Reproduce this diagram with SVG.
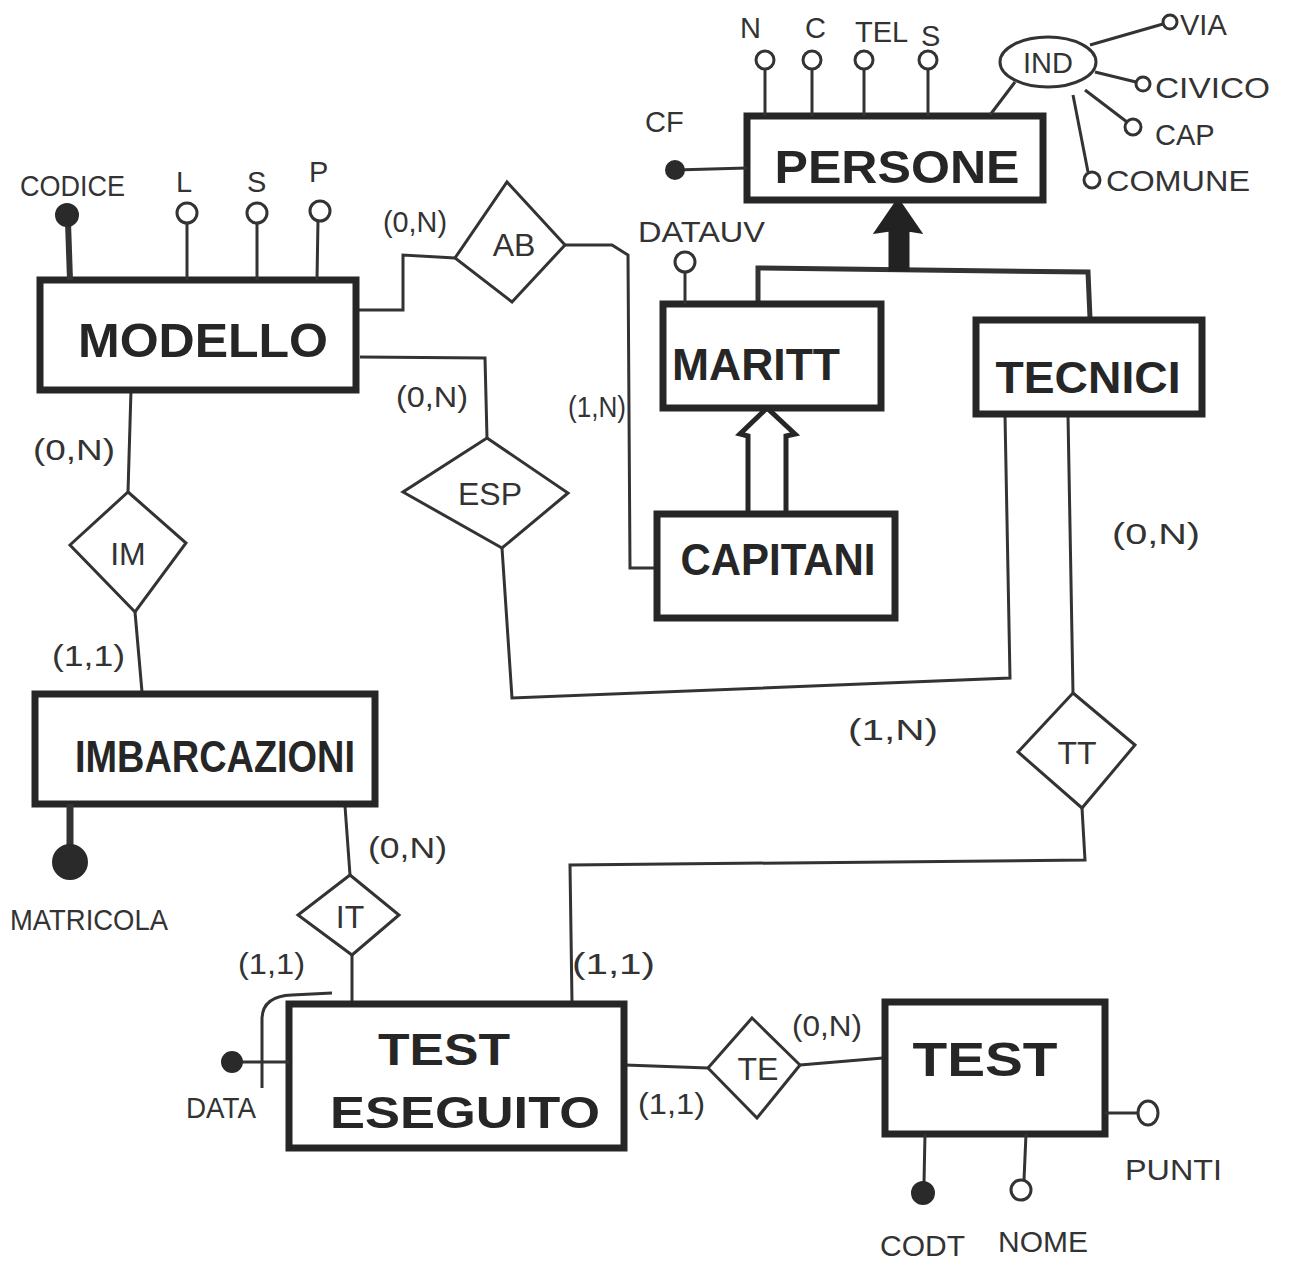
<svg xmlns="http://www.w3.org/2000/svg" width="1289" height="1265" viewBox="0 0 1289 1265">
<style>
.ent{fill:#fff;stroke:#262626;stroke-width:7}
.et{font-family:"Liberation Sans",Arial,sans-serif;font-weight:bold;fill:#262626;text-anchor:middle}
.rel{fill:#fff;stroke:#333;stroke-width:3}
.rt{font-family:"Liberation Sans",Arial,sans-serif;fill:#333;text-anchor:middle;font-size:32px}
.ln{fill:none;stroke:#333;stroke-width:3}
.at{font-family:"Liberation Sans",Arial,sans-serif;fill:#333;font-size:29px}
.ca{font-family:"Liberation Sans",Arial,sans-serif;fill:#333;font-size:30px}
.oc{fill:#fff;stroke:#333;stroke-width:3}
.fc{fill:#2a2a2a;stroke:#2a2a2a;stroke-width:2}
</style>
<rect width="1289" height="1265" fill="#fff"/>

<g id="connectors">
<polyline class="ln" points="356,310 403,310 403,255 455,258"/>
<polyline class="ln" points="565,245 612,245 628,255 630,568 655,568"/>
<polyline class="ln" points="360,357 485,358 487,438"/>
<polyline class="ln" points="502,548 512,698 1010,678 1005,415"/>
<polyline class="ln" points="1068,415 1073,693"/>
<polyline class="ln" points="1082,808 1085,860 570,865 572,1002"/>
<polyline class="ln" points="131,390 128,492"/>
<polyline class="ln" points="135,612 142,692"/>
<polyline class="ln" points="345,806 350,875"/>
<polyline class="ln" points="352,955 352,1002"/>
<polyline class="ln" points="625,1065 708,1068"/>
<polyline class="ln" points="800,1065 883,1058"/>
<!-- ISA MARITT/TECNICI -> PERSONE -->
<polyline class="ln" style="stroke-width:5" points="758,302 758,268 1088,272 1090,318"/>
<path d="M890 270 L890 230 L876 232 L898 200 L920 232 L908 230 L908 270 Z" fill="#222" stroke="#222" stroke-width="3"/>
<!-- ISA CAPITANI -> MARITT -->
<path d="M748 512 L748 436 L740 434 L767 408 L795 434 L786 436 L786 512" fill="#fff" stroke="#262626" stroke-width="5"/>
<!-- external identifier -->
<path class="ln" d="M262 1088 L262 1018 Q263 996 292 995 L332 993"/>
</g>

<g id="persone">
<rect class="ent" x="747" y="116" width="296" height="84"/>
<text class="et" x="897" y="183" font-size="46" textLength="245" lengthAdjust="spacingAndGlyphs">PERSONE</text>
<line class="ln" x1="675" y1="170" x2="747" y2="168"/>
<circle class="fc" cx="675" cy="170" r="9"/>
<text class="at" x="645" y="132">CF</text>
<line class="ln" x1="765" y1="68" x2="765" y2="116"/>
<circle class="oc" cx="765" cy="60" r="9"/>
<text class="at" x="740" y="38">N</text>
<line class="ln" x1="812" y1="68" x2="812" y2="116"/>
<circle class="oc" cx="812" cy="60" r="9"/>
<text class="at" x="805" y="38">C</text>
<line class="ln" x1="864" y1="68" x2="864" y2="116"/>
<circle class="oc" cx="864" cy="60" r="9"/>
<text class="at" x="855" y="42">TEL</text>
<line class="ln" x1="928" y1="68" x2="928" y2="116"/>
<circle class="oc" cx="928" cy="60" r="9"/>
<text class="at" x="921" y="46" font-size="32">S</text>
<line class="ln" x1="990" y1="115" x2="1015" y2="82"/>
<ellipse class="oc" cx="1048" cy="62" rx="48" ry="25"/>
<text class="at" x="1048" y="73" text-anchor="middle">IND</text>
<line class="ln" x1="1090" y1="45" x2="1163" y2="24"/>
<circle class="oc" cx="1170" cy="22" r="7"/>
<text class="at" x="1180" y="35">VIA</text>
<line class="ln" x1="1095" y1="72" x2="1136" y2="82"/>
<circle class="oc" cx="1143" cy="84" r="7"/>
<text class="at" x="1155" y="98" textLength="115" lengthAdjust="spacingAndGlyphs">CIVICO</text>
<line class="ln" x1="1085" y1="90" x2="1127" y2="122"/>
<circle class="oc" cx="1133" cy="127" r="8"/>
<text class="at" x="1155" y="145">CAP</text>
<line class="ln" x1="1073" y1="95" x2="1088" y2="172"/>
<circle class="oc" cx="1092" cy="180" r="8"/>
<text class="at" x="1106" y="191" textLength="144" lengthAdjust="spacingAndGlyphs">COMUNE</text>
</g>

<g id="modello">
<rect class="ent" x="40" y="280" width="316" height="110"/>
<text class="et" x="203" y="357" font-size="48" textLength="250" lengthAdjust="spacingAndGlyphs">MODELLO</text>
<line class="ln" style="stroke-width:6" x1="68" y1="222" x2="70" y2="280"/>
<circle class="fc" cx="67" cy="215" r="11"/>
<text class="at" x="20" y="196" textLength="105" lengthAdjust="spacingAndGlyphs">CODICE</text>
<line class="ln" x1="187" y1="222" x2="187" y2="280"/>
<circle class="oc" cx="187" cy="213" r="10"/>
<text class="at" x="176" y="192">L</text>
<line class="ln" x1="257" y1="222" x2="257" y2="280"/>
<circle class="oc" cx="257" cy="213" r="10"/>
<text class="at" x="247" y="192">S</text>
<line class="ln" x1="318" y1="220" x2="317" y2="280"/>
<circle class="oc" cx="320" cy="211" r="10"/>
<text class="at" x="309" y="182">P</text>
</g>

<g id="maritt">
<rect class="ent" x="663" y="304" width="218" height="104"/>
<text class="et" x="756" y="380" font-size="44" textLength="168" lengthAdjust="spacingAndGlyphs">MARITT</text>
<line class="ln" x1="685" y1="272" x2="685" y2="304"/>
<circle class="oc" cx="685" cy="262" r="10"/>
<text class="at" x="638" y="242" textLength="127" lengthAdjust="spacingAndGlyphs">DATAUV</text>
</g>

<g id="tecnici">
<rect class="ent" x="976" y="320" width="226" height="94"/>
<text class="et" x="1088" y="393" font-size="44" textLength="185" lengthAdjust="spacingAndGlyphs">TECNICI</text>
</g>

<g id="capitani">
<rect class="ent" x="657" y="514" width="238" height="104"/>
<text class="et" x="778" y="575" font-size="44" textLength="195" lengthAdjust="spacingAndGlyphs">CAPITANI</text>
</g>

<g id="imbarcazioni">
<rect class="ent" x="35" y="694" width="340" height="110"/>
<text class="et" x="215" y="772" font-size="44" textLength="280" lengthAdjust="spacingAndGlyphs">IMBARCAZIONI</text>
<line class="ln" style="stroke-width:7" x1="70" y1="804" x2="70" y2="850"/>
<circle class="fc" cx="70" cy="862" r="17"/>
<text class="at" x="10" y="930" textLength="158" lengthAdjust="spacingAndGlyphs">MATRICOLA</text>
</g>

<g id="test-eseguito">
<rect class="ent" x="289" y="1004" width="335" height="144"/>
<text class="et" x="444" y="1065" font-size="44" textLength="132" lengthAdjust="spacingAndGlyphs">TEST</text>
<text class="et" x="465" y="1128" font-size="44" textLength="270" lengthAdjust="spacingAndGlyphs">ESEGUITO</text>
<line class="ln" x1="236" y1="1062" x2="289" y2="1062"/>
<circle class="fc" cx="232" cy="1062" r="10"/>
<text class="at" x="186" y="1118" textLength="70" lengthAdjust="spacingAndGlyphs">DATA</text>
</g>

<g id="test">
<rect class="ent" x="885" y="1002" width="220" height="132"/>
<text class="et" x="985" y="1076" font-size="48" textLength="145" lengthAdjust="spacingAndGlyphs">TEST</text>
<line class="ln" x1="925" y1="1134" x2="924" y2="1183"/>
<circle class="fc" cx="923" cy="1193" r="11"/>
<text class="at" x="880" y="1256" textLength="85" lengthAdjust="spacingAndGlyphs">CODT</text>
<line class="ln" x1="1026" y1="1134" x2="1024" y2="1180"/>
<circle class="oc" cx="1021" cy="1190" r="10"/>
<text class="at" x="998" y="1252" textLength="90" lengthAdjust="spacingAndGlyphs">NOME</text>
<line class="ln" x1="1105" y1="1113" x2="1138" y2="1113"/>
<ellipse class="oc" cx="1148" cy="1113" rx="10" ry="12"/>
<text class="at" x="1125" y="1180" textLength="97" lengthAdjust="spacingAndGlyphs">PUNTI</text>
</g>

<g id="ab">
<polygon class="rel" points="507,182 565,245 512,302 455,258"/>
<text class="rt" x="514" y="256" font-size="34">AB</text>
</g>
<g id="esp">
<polygon class="rel" points="487,438 568,493 502,548 403,492"/>
<text class="rt" x="490" y="505">ESP</text>
</g>
<g id="im">
<polygon class="rel" points="128,492 186,543 135,612 70,545"/>
<text class="rt" x="128" y="565" font-size="36">IM</text>
</g>
<g id="it">
<polygon class="rel" points="350,875 399,915 352,955 298,915"/>
<text class="rt" x="350" y="928">IT</text>
</g>
<g id="tt">
<polygon class="rel" points="1073,693 1135,745 1082,808 1018,752"/>
<text class="rt" x="1077" y="764">TT</text>
</g>
<g id="te">
<polygon class="rel" points="752,1018 800,1065 757,1118 708,1068"/>
<text class="rt" x="758" y="1080">TE</text>
</g>

<g id="cardinalities">
<text class="ca" x="383" y="232" textLength="64" lengthAdjust="spacingAndGlyphs">(0,N)</text>
<text class="ca" x="396" y="407" textLength="72" lengthAdjust="spacingAndGlyphs">(0,N)</text>
<text class="ca" x="568" y="417" textLength="58" lengthAdjust="spacingAndGlyphs">(1,N)</text>
<text class="ca" x="33" y="460" font-size="34" textLength="82" lengthAdjust="spacingAndGlyphs">(0,N)</text>
<text class="ca" x="52" y="666" font-size="34" textLength="73" lengthAdjust="spacingAndGlyphs">(1,1)</text>
<text class="ca" x="848" y="740" font-size="34" textLength="90" lengthAdjust="spacingAndGlyphs">(1,N)</text>
<text class="ca" x="1112" y="544" font-size="34" textLength="88" lengthAdjust="spacingAndGlyphs">(0,N)</text>
<text class="ca" x="368" y="858" font-size="34" textLength="79" lengthAdjust="spacingAndGlyphs">(0,N)</text>
<text class="ca" x="238" y="974" textLength="67" lengthAdjust="spacingAndGlyphs">(1,1)</text>
<text class="ca" x="572" y="974" font-size="46" textLength="83" lengthAdjust="spacingAndGlyphs">(1,1)</text>
<text class="ca" x="638" y="1114" font-size="32" textLength="67" lengthAdjust="spacingAndGlyphs">(1,1)</text>
<text class="ca" x="792" y="1036" textLength="70" lengthAdjust="spacingAndGlyphs">(0,N)</text>
</g>
</svg>
